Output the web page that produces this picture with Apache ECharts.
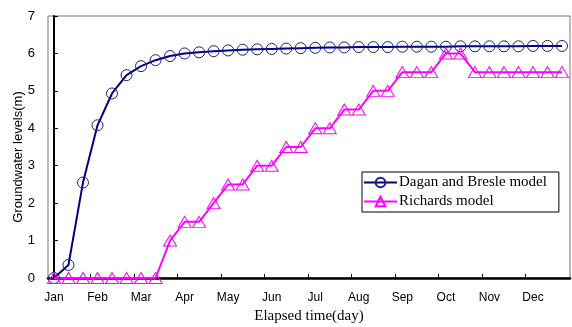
<!DOCTYPE html>
<html>
<head>
<meta charset="utf-8">
<script src="https://cdn.jsdelivr.net/npm/echarts@6/dist/echarts.min.js"></script>
<style>html,body{margin:0;padding:0;background:#fff}#c{width:572px;height:327px}</style>
</head>
<body>
<div id="c"></div>
<script>
// 10-day steps over one year (index 0..35)
const steps = Array.from({length: 36}, (_, i) => i);
const monthLabels = ['Jan','Feb','Mar','Apr','May','Jun','Jul','Aug','Sep','Oct','Nov','Dec'];
const monthLabelPos = [0,3,6,9,12,15,18,21,24,27,30,33];
const monthTickPos = [2.5,5.5,8.5,11.5,14.5,17.5,20.5,23.5,26.5,29.5,32.5];
const yTicks = [0,1,2,3,4,5,6,7];

const dagan = [0, 0.35, 2.55, 4.08, 4.93, 5.42, 5.66, 5.82, 5.93, 6.0, 6.03, 6.06,
  6.08, 6.1, 6.11, 6.12, 6.13, 6.14, 6.15, 6.16, 6.16, 6.17, 6.17, 6.17,
  6.18, 6.18, 6.18, 6.18, 6.19, 6.19, 6.19, 6.19, 6.19, 6.2, 6.2, 6.2];
const richards = [0, 0, 0, 0, 0, 0, 0, 0, 1.0, 1.5, 1.5, 2.0,
  2.5, 2.5, 3.0, 3.0, 3.5, 3.5, 4.0, 4.0, 4.5, 4.5, 5.0, 5.0,
  5.5, 5.5, 5.5, 6.0, 6.0, 5.5, 5.5, 5.5, 5.5, 5.5, 5.5, 5.5];

const chart = echarts.init(document.getElementById('c'), null, {renderer: 'canvas'});
chart.setOption({
  animation: false,
  backgroundColor: '#fff',
  grid: {left: 48, top: 16, right: 2, bottom: 49, containLabel: false, outerBoundsMode: 'none',
    show: true, borderColor: '#777', borderWidth: 1, backgroundColor: 'transparent'},
  legend: {
    left: 362, top: 172, orient: 'vertical',
    backgroundColor: '#fff', borderColor: '#000', borderWidth: 1,
    padding: [3, 12, 3, 1], itemGap: 4, itemWidth: 33, itemHeight: 12,
    textStyle: {fontFamily: 'Liberation Serif', fontSize: 15, color: '#000', padding: [0,0,0,-3]},
    data: ['Dagan and Bresle model', 'Richards model']
  },
  xAxis: {
    type: 'value', min: -0.41, max: 35.55,
    name: 'Elapsed time(day)', nameLocation: 'middle', nameGap: 31, nameMoveOverlap: false,
    nameTextStyle: {fontFamily: 'Liberation Serif', fontSize: 15, color: '#000'},
    axisLine: {show: true, lineStyle: {color: '#000', width: 2.5}},
    axisTick: {show: true, inside: true, length: 4, customValues: monthTickPos, lineStyle: {color: '#000', width: 1}},
    axisLabel: {customValues: monthLabelPos, margin: 14, fontFamily: 'Liberation Sans', fontSize: 12, color: '#000',
      formatter: v => monthLabels[monthLabelPos.indexOf(Math.round(v))] || ''},
    splitLine: {show: false}
  },
  yAxis: {
    type: 'value', min: 0, max: 7, interval: 1,
    name: 'Groundwater levels(m)', nameLocation: 'middle', nameGap: 23, nameMoveOverlap: false,
    nameTextStyle: {fontFamily: 'Liberation Sans', fontSize: 13, color: '#000', padding: [0, 20, 0, 0]},
    axisLine: {show: true, lineStyle: {color: '#000', width: 2}},
    axisTick: {show: true, inside: true, length: 4, lineStyle: {color: '#000', width: 1}},
    axisLabel: {margin: 13, fontFamily: 'Liberation Sans', fontSize: 13, color: '#000',
      formatter: v => yTicks.includes(v) ? String(v) : ''},
    splitLine: {show: false}
  },
  series: [
    {
      name: 'Dagan and Bresle model', type: 'line',
      data: steps.map((s, i) => [s, dagan[i]]),
      smooth: false,
      symbol: 'circle', symbolSize: 11,
      color: '#000080',
      lineStyle: {color: '#000080', width: 2},
      itemStyle: {color: 'rgba(255,255,255,0)', borderColor: '#1c1c8c', borderWidth: 1}
    },
    {
      name: 'Richards model', type: 'line',
      data: steps.map((s, i) => [s, richards[i]]),
      symbol: 'triangle', symbolSize: [13, 11],
      color: '#ff00ff',
      lineStyle: {color: '#ff00ff', width: 2},
      itemStyle: {color: 'rgba(255,255,255,0)', borderColor: '#ff00ff', borderWidth: 1}
    }
  ]
});
</script>
</body>
</html>
